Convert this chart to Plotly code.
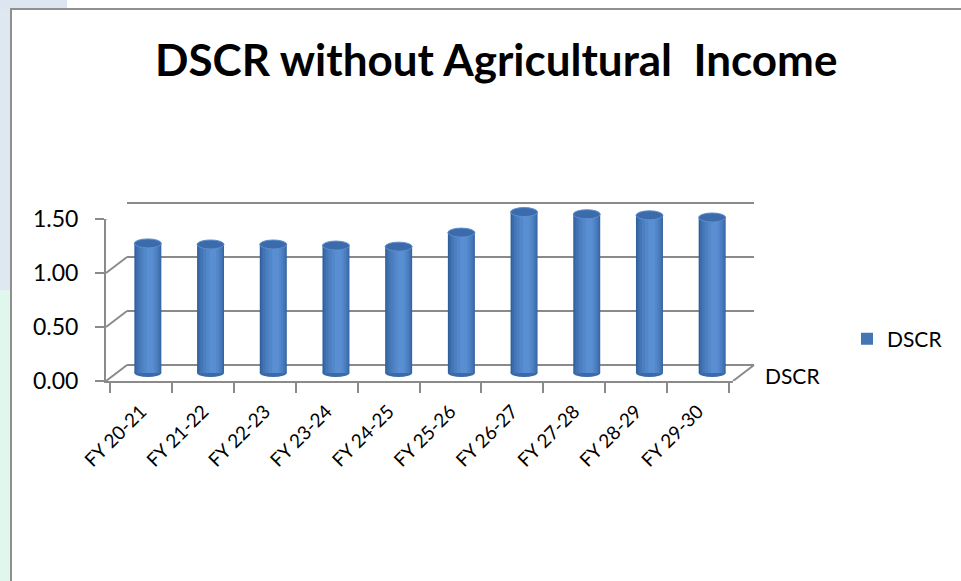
import plotly.graph_objects as go

categories = ["FY 20-21", "FY 21-22", "FY 22-23", "FY 23-24", "FY 24-25",
              "FY 25-26", "FY 26-27", "FY 27-28", "FY 28-29", "FY 29-30"]
dscr = [1.20, 1.19, 1.19, 1.18, 1.17, 1.30, 1.49, 1.47, 1.46, 1.44]
y_ticks = [0, 0.5, 1.0, 1.5]
y_tick_text = ["0.00", "0.50", "1.00", "1.50"]
series_name = "DSCR"
title_text = "DSCR without Agricultural\u00a0 Income"

W, H = 961, 581
FONT = "Lato"
GRID = "#8a8a8a"

# pixel geometry of front / middle / back planes
front_x = (106, 733)
front_y = (381, 219)  # y pixel of 0 and of 1.5
mid_dx, mid_dy = 10.5, 8
back_dx, back_dy = 21, 16
PAD = 8  # extra pixels so shapes at the range edges are not clipped
YMAX = 1.5
u = YMAX / (front_y[0] - front_y[1]) * PAD  # value units equal to PAD pixels


def xdom(x0, x1):
    return [x0 / W, x1 / W]


def ydom(yb, yt):
    return [(H - yb) / H, (H - yt) / H]


fig = go.Figure()

# dummy traces to create the back-wall subplot and the front axes subplot
fig.add_trace(go.Scatter(x=categories, y=[None] * len(categories), xaxis="x3", yaxis="y3",
                         showlegend=False, hoverinfo="skip", mode="markers"))
fig.add_trace(go.Scatter(x=categories, y=[None] * len(categories), xaxis="x", yaxis="y",
                         showlegend=False, hoverinfo="skip", mode="markers"))

# cylinder shading layers (width, offset, colour, legend)
layers = [
    (0.43, 0.000, "#30609B", False),
    (0.40, 0.006, "#3B6BAA", False),
    (0.35, 0.012, "#4476B6", True),
    (0.28, 0.020, "#4B7FC1", False),
    (0.20, 0.028, "#5287CA", False),
    (0.11, 0.036, "#598ED2", False),
]
for w, off, col, leg in layers:
    fig.add_trace(go.Bar(
        x=categories, y=dscr, xaxis="x2", yaxis="y2",
        width=w, offset=-w / 2 + off,
        marker=dict(color=col, line=dict(width=0)),
        name=series_name, showlegend=leg, hoverinfo="y",
    ))

shapes = []
# back wall gridlines (including floor and top edge)
for v in y_ticks:
    shapes.append(dict(type="line", xref="x3 domain", yref="y3", x0=0, x1=1, y0=v, y1=v,
                       line=dict(color=GRID, width=2), layer="below"))
# left wall diagonals
for v in y_ticks:
    shapes.append(dict(type="line", xref="x domain", yref="y",
                       xsizemode="pixel", xanchor=0, x0=0, x1=back_dx,
                       ysizemode="pixel", yanchor=v, y0=0, y1=back_dy,
                       line=dict(color=GRID, width=2), layer="below"))
# right floor diagonal
shapes.append(dict(type="line", xref="x domain", yref="y",
                   xsizemode="pixel", xanchor=1, x0=0, x1=back_dx,
                   ysizemode="pixel", yanchor=0, y0=0, y1=back_dy,
                   line=dict(color=GRID, width=2), layer="below"))

# bottom and top ellipses of cylinders
for i, v in enumerate(dscr):
    shapes.append(dict(type="circle", xref="x2", yref="y2", ysizemode="pixel",
                       yanchor=0, y0=-4, y1=4, x0=i - 0.215, x1=i + 0.215,
                       fillcolor="#3A6AA8", line=dict(width=0), layer="below"))
    shapes.append(dict(type="circle", xref="x2", yref="y2", ysizemode="pixel",
                       yanchor=v, y0=-4.5, y1=4.5, x0=i - 0.215, x1=i + 0.215,
                       fillcolor="#3B6BAA", line=dict(width=1, color="#5C8ED0"), layer="above"))

# outer chart border and page background
shapes.append(dict(type="rect", xref="paper", yref="paper", x0=0, x1=11 / W, y0=0, y1=0.5,
                   fillcolor="#e0f7ee", line=dict(width=0), layer="below"))
shapes.append(dict(type="rect", xref="paper", yref="paper", x0=0, x1=11 / W, y0=0.5, y1=1,
                   fillcolor="#dde8f1", line=dict(width=0), layer="below"))
shapes.append(dict(type="rect", xref="paper", yref="paper", x0=0, x1=67 / W, y0=(H - 9) / H, y1=1,
                   fillcolor="#dde6f0", line=dict(width=0), layer="below"))
shapes.append(dict(type="rect", xref="paper", yref="paper", x0=11 / W, x1=1.01,
                   y0=-0.01, y1=(H - 9) / H, fillcolor="rgba(0,0,0,0)",
                   line=dict(color="#8f8f8f", width=2), layer="below"))

fig.update_layout(
    width=W, height=H,
    margin=dict(l=0, r=0, t=0, b=0, pad=0, autoexpand=False),
    paper_bgcolor="white", plot_bgcolor="rgba(0,0,0,0)",
    barmode="overlay",
    font=dict(family=FONT, color="black"),
    showlegend=True,
    legend=dict(x=847 / W, y=(H - 339) / H, xanchor="left", yanchor="middle",
                font=dict(size=21, family=FONT), bgcolor="rgba(0,0,0,0)"),
    shapes=shapes,
    annotations=[
        dict(text="<b>" + title_text + "</b>", xref="paper", yref="paper",
             x=496 / W, y=(H - 59) / H, xanchor="center", yanchor="middle",
             showarrow=False, font=dict(size=44, family=FONT, color="black")),
        dict(text=series_name, xref="paper", yref="paper", x=763 / W, y=(H - 375) / H,
             xanchor="left", yanchor="middle", showarrow=False,
             font=dict(size=21, family=FONT, color="black")),
    ],
    # front axes (labels)
    xaxis=dict(domain=xdom(*front_x), type="category", showgrid=False, automargin=False,
               showline=True, linecolor=GRID, linewidth=2,
               ticks="outside", tickson="boundaries", ticklen=10, tickcolor=GRID, tickwidth=2,
               tickangle=-45, ticklabelstandoff=10,
               tickfont=dict(size=19, family=FONT, color="black"),
               anchor="y", fixedrange=True, zeroline=False),
    yaxis=dict(domain=ydom(*front_y), range=[0, YMAX], showgrid=False, zeroline=False,
               automargin=False,
               showline=True, linecolor=GRID, linewidth=2,
               ticks="outside", ticklen=9, tickcolor=GRID, tickwidth=2,
               ticklabelstandoff=12,
               tickvals=y_ticks, ticktext=y_tick_text,
               tickfont=dict(size=23, family=FONT, color="black"),
               anchor="x", fixedrange=True),
    # middle plane (bars), padded so the cylinder bottoms are not clipped
    xaxis2=dict(domain=xdom(front_x[0] + mid_dx, front_x[1] + mid_dx), type="category",
                visible=False, anchor="y2", fixedrange=True, automargin=False),
    yaxis2=dict(domain=ydom(front_y[0] - mid_dy + PAD, front_y[1] - mid_dy - PAD),
                range=[-u, YMAX + u],
                visible=False, anchor="x2", fixedrange=True, automargin=False),
    # back wall, padded so the edge gridlines are not clipped
    xaxis3=dict(domain=xdom(front_x[0] + back_dx, front_x[1] + back_dx), type="category",
                visible=False, anchor="y3", fixedrange=True, automargin=False),
    yaxis3=dict(domain=ydom(front_y[0] - back_dy + PAD, front_y[1] - back_dy - PAD),
                range=[-u, YMAX + u],
                visible=False, anchor="x3", fixedrange=True, automargin=False),
)

fig.write_html("out.html")
